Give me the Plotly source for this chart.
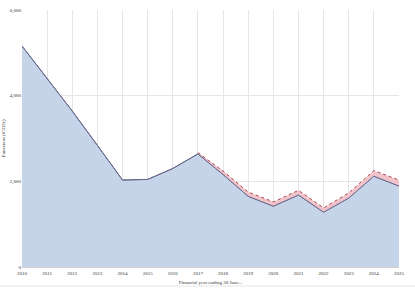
import plotly.graph_objects as go

years = list(range(2010, 2026))
actual = [5160, 4400, 3640, 2840, 2030, 2045, 2300, 2640, 2160, 1650, 1420, 1680, 1280, 1610, 2120, 1890]
proj_years = list(range(2017, 2026))
projected = [2670, 2240, 1750, 1520, 1790, 1380, 1730, 2250, 2030]
y_ticks = [0, 2000, 4000, 6000]

font_family = "Liberation Serif, Times New Roman, serif"
actual_sub = [actual[years.index(y)] for y in proj_years]

fig = go.Figure()
fig.add_trace(go.Scatter(
    x=years, y=actual, mode="lines", fill="tozeroy",
    fillcolor="rgba(198,212,233,1)",
    line=dict(color="rgb(105,105,140)", width=1),
    showlegend=False, hoverinfo="skip"))
fig.add_trace(go.Scatter(
    x=proj_years, y=actual_sub, mode="lines",
    line=dict(width=0, color="rgba(0,0,0,0)"),
    showlegend=False, hoverinfo="skip"))
fig.add_trace(go.Scatter(
    x=proj_years, y=projected, mode="lines", fill="tonexty",
    fillcolor="rgba(240,196,202,1)",
    line=dict(color="rgb(170,70,75)", width=1, dash="dot"),
    showlegend=False, hoverinfo="skip"))
fig.add_trace(go.Scatter(
    x=years, y=actual, mode="lines",
    line=dict(color="rgb(105,105,140)", width=1),
    showlegend=False, hoverinfo="skip"))

fig.update_layout(
    width=415, height=288,
    margin=dict(l=22, r=16, t=10, b=21, autoexpand=False),
    paper_bgcolor="white", plot_bgcolor="white",
    font=dict(family=font_family, size=5, color="#333"),
    xaxis=dict(
        range=[2010, 2025], tickmode="array", tickvals=years,
        ticktext=[str(y) for y in years], automargin=False,
        showgrid=True, gridcolor="#e6e6e6", gridwidth=1,
        zeroline=False, showline=True, linecolor="#d0d0d0",
        ticks="", ticklabelstandoff=1, tickfont=dict(size=5, color="#333"),
        title=dict(text="Financial year ending 30 June...", font=dict(size=5, color="#333"), standoff=5),
    ),
    yaxis=dict(
        range=[0, 6000], tickmode="array", tickvals=y_ticks, automargin=False,
        tickformat=",", showgrid=True, gridcolor="#e6e6e6", gridwidth=1,
        zeroline=False, showline=False, ticks="",
        tickfont=dict(size=5, color="#333"),
        title=dict(text="Emissions (tCO2e)", font=dict(size=5, color="#333"), standoff=4),
    ),
    shapes=[dict(type="rect", xref="paper", yref="paper", x0=-0.06, x1=1.05,
                 y0=-0.078, y1=-0.07, fillcolor="#f2f2f2", line=dict(width=0), layer="below")],
)

fig.write_html("out.html")
